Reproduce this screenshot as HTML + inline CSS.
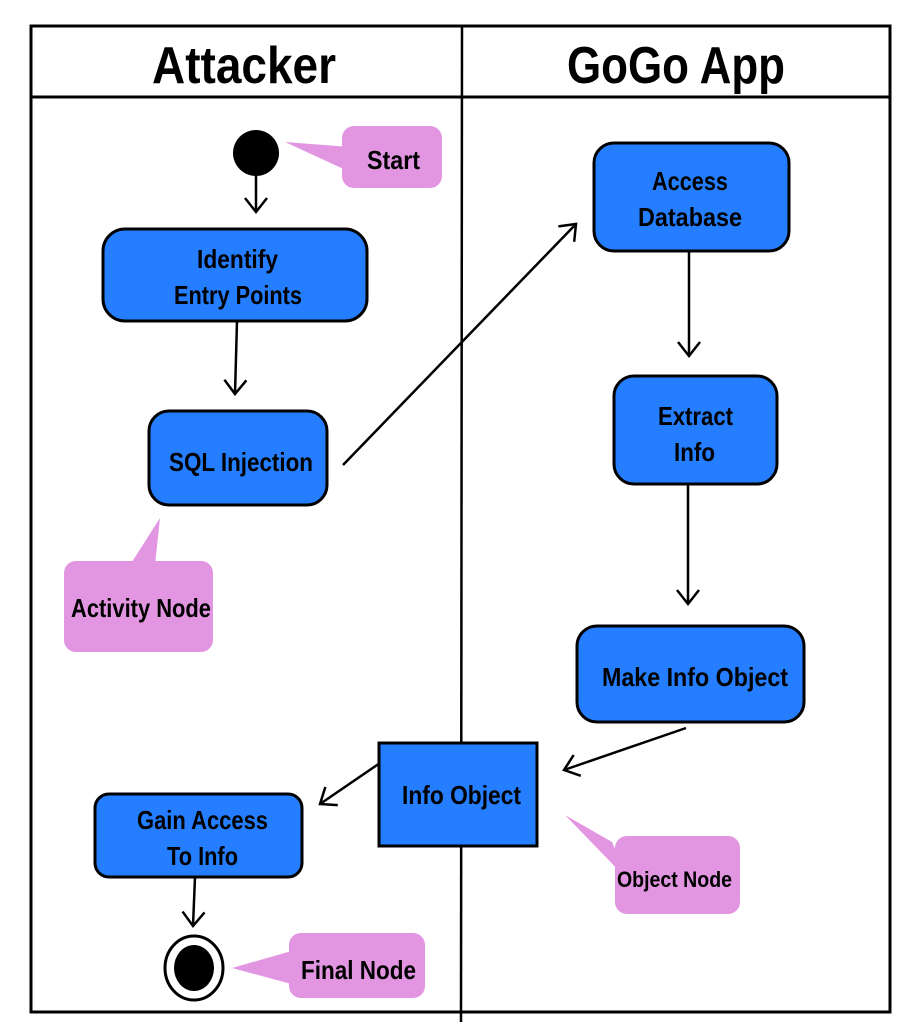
<!DOCTYPE html>
<html><head><meta charset="utf-8"><style>
html,body{margin:0;padding:0;background:#fff;}
svg{display:block;}
text{font-family:"Liberation Sans",sans-serif;font-weight:bold;fill:#000;}
</style></head><body>
<svg width="922" height="1034" viewBox="0 0 922 1034" xmlns="http://www.w3.org/2000/svg">
<defs>
<marker id="a" markerWidth="24" markerHeight="24" refX="16" refY="12" orient="auto" markerUnits="userSpaceOnUse">
<path d="M2,1 L16,12 L2,23" fill="none" stroke="#000" stroke-width="2.5"/>
</marker>
</defs>
<rect x="31" y="26" width="859" height="986" fill="none" stroke="#000" stroke-width="3"/>
<line x1="31" y1="97" x2="890" y2="97" stroke="#000" stroke-width="3"/>
<line x1="462" y1="26" x2="461" y2="1022" stroke="#000" stroke-width="2.5"/>
<text x="152" y="83" font-size="52" textLength="184" lengthAdjust="spacingAndGlyphs">Attacker</text>
<text x="567" y="83" font-size="52" textLength="218" lengthAdjust="spacingAndGlyphs">GoGo App</text>

<circle cx="256" cy="153" r="23" fill="#000"/>
<polygon points="285,142 350,147 350,172" fill="#e296e2"/>
<rect x="342" y="126" width="100" height="62" rx="12" fill="#e296e2"/>
<text x="367" y="169" font-size="26" textLength="53" lengthAdjust="spacingAndGlyphs">Start</text>
<line x1="256" y1="176" x2="256" y2="212" stroke="#000" stroke-width="2.5" marker-end="url(#a)"/>

<rect x="103" y="229" width="264" height="92" rx="22" fill="#247eff" stroke="#000" stroke-width="3"/>
<text x="197" y="268" font-size="26" textLength="81" lengthAdjust="spacingAndGlyphs">Identify</text>
<text x="174" y="304" font-size="26" textLength="128" lengthAdjust="spacingAndGlyphs">Entry Points</text>
<line x1="237" y1="321" x2="235" y2="394" stroke="#000" stroke-width="2.5" marker-end="url(#a)"/>

<rect x="149" y="411" width="178" height="94" rx="20" fill="#247eff" stroke="#000" stroke-width="3"/>
<text x="169" y="471" font-size="26" textLength="144" lengthAdjust="spacingAndGlyphs">SQL Injection</text>
<polygon points="160,518 130,565 155,565" fill="#e296e2"/>
<rect x="64" y="561" width="149" height="91" rx="12" fill="#e296e2"/>
<text x="71" y="617" font-size="26" textLength="140" lengthAdjust="spacingAndGlyphs">Activity Node</text>
<line x1="343" y1="465" x2="576" y2="224" stroke="#000" stroke-width="2.5" marker-end="url(#a)"/>

<rect x="594" y="143" width="195" height="108" rx="20" fill="#247eff" stroke="#000" stroke-width="3"/>
<text x="652" y="190" font-size="26" textLength="76" lengthAdjust="spacingAndGlyphs">Access</text>
<text x="638" y="226" font-size="26" textLength="104" lengthAdjust="spacingAndGlyphs">Database</text>
<line x1="689" y1="251" x2="689" y2="356" stroke="#000" stroke-width="2.5" marker-end="url(#a)"/>

<rect x="614" y="376" width="163" height="108" rx="20" fill="#247eff" stroke="#000" stroke-width="3"/>
<text x="658" y="425" font-size="26" textLength="75" lengthAdjust="spacingAndGlyphs">Extract</text>
<text x="674" y="461" font-size="26" textLength="41" lengthAdjust="spacingAndGlyphs">Info</text>
<line x1="688" y1="484" x2="688" y2="604" stroke="#000" stroke-width="2.5" marker-end="url(#a)"/>

<rect x="577" y="626" width="227" height="96" rx="20" fill="#247eff" stroke="#000" stroke-width="3"/>
<text x="602" y="686" font-size="26" textLength="186" lengthAdjust="spacingAndGlyphs">Make Info Object</text>
<line x1="686" y1="728" x2="564" y2="770" stroke="#000" stroke-width="2.5" marker-end="url(#a)"/>

<rect x="379" y="743" width="158" height="103" fill="#247eff" stroke="#000" stroke-width="3"/>
<text x="402" y="804" font-size="26" textLength="119" lengthAdjust="spacingAndGlyphs">Info Object</text>
<polygon points="565,815 612,842 628,880" fill="#e296e2"/>
<rect x="615" y="836" width="125" height="78" rx="12" fill="#e296e2"/>
<text x="617" y="887" font-size="22" textLength="115" lengthAdjust="spacingAndGlyphs">Object Node</text>
<line x1="380" y1="763" x2="320" y2="804" stroke="#000" stroke-width="2.5" marker-end="url(#a)"/>

<rect x="95" y="794" width="207" height="83" rx="14" fill="#247eff" stroke="#000" stroke-width="3"/>
<text x="137" y="829" font-size="26" textLength="131" lengthAdjust="spacingAndGlyphs">Gain Access</text>
<text x="167" y="865" font-size="26" textLength="71" lengthAdjust="spacingAndGlyphs">To Info</text>
<line x1="195" y1="877" x2="193" y2="926" stroke="#000" stroke-width="2.5" marker-end="url(#a)"/>

<ellipse cx="194" cy="968" rx="29" ry="32" fill="#fff" stroke="#000" stroke-width="3"/>
<ellipse cx="194" cy="968" rx="20" ry="23" fill="#000"/>
<polygon points="232,968 295,950 295,985" fill="#e296e2"/>
<rect x="289" y="933" width="136" height="65" rx="12" fill="#e296e2"/>
<text x="301" y="979" font-size="26" textLength="115" lengthAdjust="spacingAndGlyphs">Final Node</text>
</svg>
</body></html>
